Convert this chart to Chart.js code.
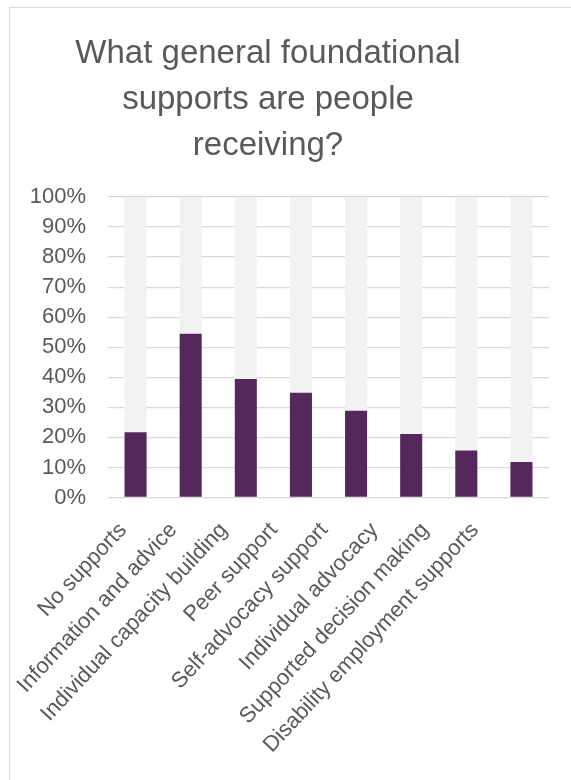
<!DOCTYPE html>
<html>
<head>
<meta charset="utf-8">
<script src="https://cdn.jsdelivr.net/npm/chart.js@4/dist/chart.umd.min.js"></script>
<style>
    html, body { margin: 0; padding: 0; background: #fff; }
    body { width: 571px; height: 780px; overflow: hidden; position: relative; }
    #frame {
        position: absolute; left: 9px; top: 7px;
        width: 580px; height: 790px;
        border-left: 1px solid #d9d9d9;
        border-top: 1px solid #d9d9d9;
    }
    #wrap { position: absolute; left: 10px; top: 8px; width: 561px; height: 772px; }
</style>
</head>
<body>
<div id="frame"></div>
<div id="wrap"><canvas id="supportsChart"></canvas></div>
<script>
// Share of people receiving each general foundational support
const categories = [
    'No supports',
    'Information and advice',
    'Individual capacity building',
    'Peer support',
    'Self-advocacy support',
    'Individual advocacy',
    'Supported decision making',
    'Disability employment supports'
];
const receiving = [21.7, 54.5, 39.4, 34.9, 28.9, 21.1, 15.6, 11.8];
const titleLines = ['What general foundational', 'supports are people', 'receiving?'];
const yTicks = [0, 10, 20, 30, 40, 50, 60, 70, 80, 90, 100];

// grey remainder so every column reaches 100%
const remainder = receiving.map(v => 100 - v);

const textColor = '#595959';
const fontFamily = '"Liberation Sans", Arial, sans-serif';

// title is drawn centred over the frame rather than the plot area
const frameTitle = {
    id: 'frameTitle',
    afterDraw(chart) {
        const ctx = chart.ctx;
        ctx.save();
        ctx.fillStyle = textColor;
        ctx.font = '33px ' + fontFamily;
        ctx.textAlign = 'center';
        ctx.textBaseline = 'alphabetic';
        titleLines.forEach((line, i) => {
            ctx.fillText(line, 258, 55 + i * 46);
        });
        ctx.restore();
    }
};

const ctx = document.getElementById('supportsChart').getContext('2d');
const chart = new Chart(ctx, {
    type: 'bar',
    data: {
        labels: categories,
        datasets: [
            {
                label: 'Receiving',
                data: receiving,
                backgroundColor: '#56275c',
                categoryPercentage: 1,
                barPercentage: 0.4
            },
            {
                label: 'Not receiving',
                data: remainder,
                backgroundColor: '#f2f2f2',
                categoryPercentage: 1,
                barPercentage: 0.4
            }
        ]
    },
    options: {
        responsive: true,
        maintainAspectRatio: false,
        animation: false,
        layout: {
            padding: { top: 189, right: 22, left: 0, bottom: 0 }
        },
        plugins: {
            legend: { display: false },
            title: { display: false },
            tooltip: { enabled: false }
        },
        scales: {
            x: {
                stacked: true,
                grid: { display: false, drawTicks: false },
                border: { display: false },
                ticks: { display: false },
                afterFit: (scale) => { scale.height = 0; }
            },
            // category names sit on their own axis, a little tighter than the columns
            names: {
                type: 'linear',
                position: 'bottom',
                offset: false,
                min: -0.3,
                max: 8.47,
                afterBuildTicks: (scale) => { scale.ticks = categories.map((c, i) => ({ value: i })); },
                grid: { display: false, drawTicks: false, offset: false },
                border: { display: false },
                ticks: {
                    color: textColor,
                    font: { family: fontFamily, size: 22 },
                    minRotation: 47,
                    maxRotation: 47,
                    autoSkip: false,
                    padding: 20,
                    callback: (v) => categories[v]
                },
                afterFit: (scale) => { scale.height = 772 - 489.5; }
            },
            y: {
                stacked: true,
                min: 0,
                max: 100,
                afterBuildTicks: (scale) => { scale.ticks = yTicks.map(v => ({ value: v })); },
                grid: { color: '#d9d9d9', lineWidth: 1.3, drawTicks: false },
                border: { display: false },
                ticks: {
                    color: textColor,
                    font: { family: fontFamily, size: 22 },
                    padding: 22,
                    callback: (v) => v + '%'
                },
                afterFit: (scale) => { scale.width = 98; }
            }
        }
    },
    plugins: [frameTitle]
});
</script>
</body>
</html>
